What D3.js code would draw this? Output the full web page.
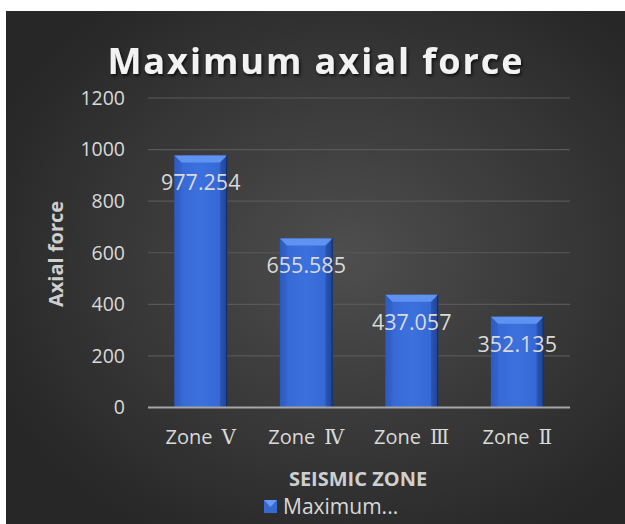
<!DOCTYPE html>
<html><head><meta charset="utf-8">
<script src="https://cdn.jsdelivr.net/npm/d3@7"></script>
<style>html,body{margin:0;padding:0;background:#fff;}svg{display:block;}</style>
</head><body>
<svg id="chart" width="625" height="524"></svg>
<script>
const categories = ["Zone Ⅴ", "Zone Ⅳ", "Zone Ⅲ", "Zone Ⅱ"];
const values = [977.254, 655.585, 437.057, 352.135];
const yTicks = [0, 200, 400, 600, 800, 1000, 1200];
const seriesName = "Maximum...";
const titleText = "Maximum axial force";
const xTitle = "SEISMIC ZONE";
const yTitle = "Axial force";

const FONT = "'Open Sans', 'DejaVu Serif', sans-serif";
const svg = d3.select("#chart");
const defs = svg.append("defs");
const bg = defs.append("radialGradient").attr("id","bg").attr("cx","55%").attr("cy","48%").attr("r","62%");
bg.append("stop").attr("offset","0%").attr("stop-color","#4e4e4e");
bg.append("stop").attr("offset","100%").attr("stop-color","#272727");
const bar = defs.append("linearGradient").attr("id","bar").attr("x1","0").attr("x2","1").attr("y1","0").attr("y2","0");
bar.append("stop").attr("offset","0%").attr("stop-color","#2c5bc0");
bar.append("stop").attr("offset","12%").attr("stop-color","#3769d6");
bar.append("stop").attr("offset","50%").attr("stop-color","#3b71de");
bar.append("stop").attr("offset","88%").attr("stop-color","#3568d4");
bar.append("stop").attr("offset","100%").attr("stop-color","#21489c");
const sh = defs.append("filter").attr("id","sh").attr("x","-10%").attr("y","-20%").attr("width","130%").attr("height","150%");
sh.append("feDropShadow").attr("dx",1.5).attr("dy",2).attr("stdDeviation",1.5).attr("flood-color","#000").attr("flood-opacity",0.7);

svg.append("rect").attr("x",6).attr("y",11).attr("width",619).attr("height",513).attr("fill","url(#bg)");

const x = d3.scaleBand().domain(categories).range([148, 570]).paddingInner(0.5).paddingOuter(0.25);
const y = d3.scaleLinear().domain([0, 1200]).range([407.5, 98]);

// gridlines
svg.append("g").selectAll("line").data(yTicks.filter(d=>d>0)).join("line")
  .attr("x1",148).attr("x2",570).attr("y1",d=>y(d)).attr("y2",d=>y(d))
  .attr("stroke","#585858").attr("stroke-width",1.2);

// y axis
const yAxis = svg.append("g").attr("transform","translate(148,0)")
  .call(d3.axisLeft(y).tickValues(yTicks).tickFormat(d3.format("d")).tickSize(0).tickPadding(23));
yAxis.select(".domain").remove();
yAxis.selectAll("text").attr("fill","#d9d9d9").attr("font-family",FONT).attr("font-size",19.5);

// bars
const g = svg.append("g");
const bw = x.bandwidth();
categories.forEach((c,i)=>{
  const x0 = x(c), y0 = y(values[i]), h = y(0)-y(values[i]);
  g.append("rect").attr("x",x0).attr("y",y0).attr("width",bw).attr("height",h).attr("fill","url(#bar)");
  const b = 7;
  g.append("path").attr("d",`M${x0},${y0}L${x0+bw},${y0}L${x0+bw-b},${y0+b}L${x0+b},${y0+b}Z`).attr("fill","#5f93f2");
  g.append("path").attr("d",`M${x0},${y0}L${x0+b},${y0+b}L${x0+b},${y0+h}L${x0},${y0+h}Z`).attr("fill","#2e5cc0").attr("opacity",0.5);
  g.append("path").attr("d",`M${x0+bw},${y0}L${x0+bw-b},${y0+b}L${x0+bw-b},${y0+h}L${x0+bw},${y0+h}Z`).attr("fill","#1d3f8c").attr("opacity",0.5);
  g.append("line").attr("x1",x0+bw-0.5).attr("x2",x0+bw-0.5).attr("y1",y0).attr("y2",y0+h).attr("stroke","#132c66").attr("stroke-width",1);
});

// x axis line
svg.append("line").attr("x1",148).attr("x2",570).attr("y1",y(0)).attr("y2",y(0)).attr("stroke","#a6a6a6").attr("stroke-width",2);

// value labels
svg.append("g").selectAll("text").data(values).join("text")
  .attr("x",(d,i)=>x(categories[i])+bw/2).attr("y",d=>y(d)+35)
  .attr("text-anchor","middle").attr("fill","#d9d9d9")
  .attr("font-family",FONT).attr("font-size",21.5)
  .text(d=>d.toFixed(3));

// x axis labels
const xAxis = svg.append("g").attr("transform",`translate(0,${y(0)})`)
  .call(d3.axisBottom(x).tickSize(0).tickPadding(22));
xAxis.select(".domain").remove();
xAxis.selectAll("text").attr("fill","#d9d9d9").attr("font-family",FONT).attr("font-size",20)
  .each(function(d){
    const parts = d.split(" ");
    const t = d3.select(this).text(null);
    t.append("tspan").text(parts[0]);
    t.append("tspan").attr("dx",9).attr("font-family","'DejaVu Serif', serif").attr("font-size",20).text(parts[1]);
  });

// titles
svg.append("text").attr("x",316).attr("y",74).attr("text-anchor","middle")
  .attr("fill","#f2f2f2").attr("font-family",FONT).attr("font-weight","bold")
  .attr("font-size",36).attr("letter-spacing",2).attr("filter","url(#sh)").text(titleText);
svg.append("text").attr("x",358).attr("y",486).attr("text-anchor","middle")
  .attr("fill","#cfcfcf").attr("font-family",FONT).attr("font-weight","bold")
  .attr("font-size",20).text(xTitle);
svg.append("text").attr("transform","translate(63,254) rotate(-90)").attr("text-anchor","middle")
  .attr("fill","#cfcfcf").attr("font-family",FONT).attr("font-weight","bold")
  .attr("font-size",20).text(yTitle);

// legend
const lg = svg.append("g");
lg.append("rect").attr("x",264).attr("y",500).attr("width",13).attr("height",13).attr("fill","#3769d3");
lg.append("path").attr("d","M264,500L277,500L270.5,507Z").attr("fill","#6a9af2");
lg.append("text").attr("x",283).attr("y",514).attr("fill","#d9d9d9")
  .attr("font-family",FONT).attr("font-size",21).text(seriesName);
</script>
</body></html>
